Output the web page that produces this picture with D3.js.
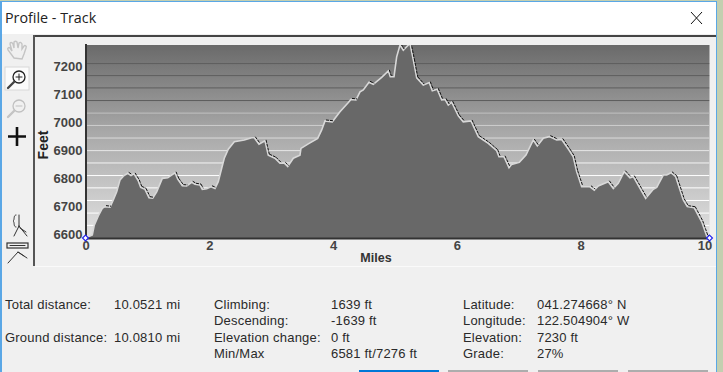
<!DOCTYPE html>
<html>
<head>
<meta charset="utf-8">
<style>
  html, body { margin: 0; padding: 0; background: #f0f0f0; overflow: hidden; }
  svg { display: block; font-family: "Liberation Sans", sans-serif; }
  .axis text { font: bold 13px "Liberation Sans", sans-serif; fill: #444; }
  .axis path { stroke: #333; stroke-width: 2; }
  .info { font-size: 13px; letter-spacing: .2px; fill: #2a2a2a; dominant-baseline: middle; }
</style>
</head>
<body>
<div id="chart"></div>
<script src="https://cdnjs.cloudflare.com/ajax/libs/d3/7.8.5/d3.min.js"></script>
<script>
// track profile
let miles = [0, .110, .142, .207, .271, .315, .396, .449, .504, .557, .611, .682, .735, .784, .853, .892, .961, 1.026, 1.086, 1.150,
  1.241, 1.328, 1.446, 1.490, 1.564, 1.635, 1.716, 1.769, 1.850, 1.887, 1.958, 2.027, 2.092, 2.145, 2.200, 2.242, 2.307, 2.404, 2.565, 2.685,
  2.727, 2.803, 2.900, 2.953, 3.061, 3.142, 3.212, 3.267, 3.357, 3.465, 3.481, 3.599, 3.751, 3.816, 3.869, 3.987, 4.111, 4.236, 4.289, 4.370,
  4.435, 4.488, 4.580, 4.649, 4.785, 4.892, 4.924, 4.984, 5.027, 5.081, 5.134, 5.189, 5.242, 5.296, 5.351, 5.457, 5.554, 5.603, 5.683, 5.754,
  5.808, 5.861, 5.916, 6.023, 6.103, 6.228, 6.346, 6.507, 6.643, 6.680, 6.761, 6.842, 6.885, 7.008, 7.116, 7.234, 7.299, 7.396, 7.493, 7.612,
  7.693, 7.811, 7.880, 7.935, 8.016, 8.150, 8.220, 8.284, 8.446, 8.527, 8.607, 8.704, 8.796, 8.850, 9.050, 9.173, 9.228, 9.334, 9.389, 9.459,
  9.535, 9.657, 9.722, 9.835, 9.955, 10.036, 10.081];
let feet = [6581, 6592, 6627, 6660, 6687, 6693, 6691, 6717, 6746, 6788, 6802, 6812, 6804, 6810, 6785, 6762, 6755, 6725, 6723, 6746,
  6794, 6796, 6814, 6791, 6768, 6767, 6780, 6773, 6770, 6755, 6757, 6764, 6758, 6782, 6830, 6866, 6898, 6925, 6931, 6939,
  6939, 6916, 6928, 6877, 6866, 6848, 6848, 6836, 6866, 6877, 6901, 6917, 6937, 6967, 6999, 6996, 7032, 7062, 7076, 7074,
  7103, 7110, 7137, 7130, 7155, 7178, 7157, 7157, 7228, 7270, 7252, 7264, 7276, 7217, 7153, 7127, 7136, 7107, 7112, 7074,
  7076, 7056, 7066, 7017, 6996, 6999, 6943, 6919, 6893, 6871, 6871, 6832, 6844, 6851, 6877, 6931, 6910, 6937, 6943, 6931,
  6933, 6895, 6871, 6818, 6764, 6764, 6752, 6767, 6782, 6758, 6776, 6818, 6796, 6800, 6723, 6755, 6762, 6806, 6806, 6814,
  6800, 6717, 6693, 6689, 6639, 6588, 6581];

let yTicks = [6600, 6700, 6800, 6900, 7000, 7100, 7200];
let xTicks = [0, 2, 4, 6, 8, 10];
let darkGrid = [7204, 7161, 7117, 7072];
let lightGrid = [7027, 6983, 6938, 6893, 6849, 6804, 6760, 6715, 6670, 6626];

let statsLeft = [["Total distance:", "10.0521 mi"], ["", ""], ["Ground distance:", "10.0810 mi"], ["", ""]];
let statsMid = [["Climbing:", "1639 ft"], ["Descending:", "-1639 ft"], ["Elevation change:", "0 ft"], ["Min/Max", "6581 ft/7276 ft"]];
let statsRight = [["Latitude:", "041.274668° N"], ["Longitude:", "122.504904° W"], ["Elevation:", "7230 ft"], ["Grade:", "27%"]];

let width = 723;
let height = 372;
let plot = { left: 85.5, right: 709.5, top: 45, bottom: 238 };

let track = miles.map(function(m, i) { return { mile: m, ft: feet[i] }; });

let svg = d3.select('#chart').append('svg')
  .attr('width', width)
  .attr('height', height);

// map peeking out behind the dialog, then the dialog itself
svg.append('rect').attr('width', width).attr('height', height).attr('fill', '#c3cfb0');
svg.append('rect').attr('x', 0).attr('y', 1).attr('width', 717).attr('height', height).attr('fill', '#5aa7e6');
svg.append('rect').attr('x', 2).attr('y', 2).attr('width', 714).attr('height', height).attr('fill', '#f0f0f0');
svg.append('rect').attr('x', 2).attr('y', 2).attr('width', 714).attr('height', 32).attr('fill', '#fff');

svg.append('text').attr('x', 5).attr('y', 23)
  .style('font', '14.3px "Open Sans", sans-serif').attr('fill', '#222').text('Profile - Track');

// close button
svg.append('path').attr('d', 'M691 12L702 24M702 12L691 24').attr('stroke', '#111').attr('fill', 'none');

// chart panel frame
svg.append('rect').attr('x', 33).attr('y', 35).attr('width', 683).attr('height', 2).attr('fill', '#444');
svg.append('rect').attr('x', 33).attr('y', 35).attr('width', 2).attr('height', 231).attr('fill', '#555');
svg.append('rect').attr('x', 35).attr('y', 266).attr('width', 681).attr('height', 1).attr('fill', '#fafafa');

let xScale = d3.scaleLinear().domain([0, 10.081]).range([plot.left, plot.right]);
let yScale = d3.scaleLinear().domain([6581, 7276]).range([plot.bottom, 43.4]);

let defs = svg.append('defs');
let grad = defs.append('linearGradient').attr('id', 'sky')
  .attr('x1', 0).attr('y1', 0).attr('x2', 0).attr('y2', 1);
grad.append('stop').attr('offset', '0%').attr('stop-color', '#6a6a6a');
grad.append('stop').attr('offset', '45%').attr('stop-color', '#a8a8a8');
grad.append('stop').attr('offset', '100%').attr('stop-color', '#e2e2e2');
defs.append('clipPath').attr('id', 'plotClip').append('rect')
  .attr('x', plot.left).attr('y', plot.top)
  .attr('width', plot.right - plot.left).attr('height', plot.bottom - plot.top);

svg.append('rect')
  .attr('x', plot.left).attr('y', plot.top)
  .attr('width', plot.right - plot.left).attr('height', plot.bottom - plot.top)
  .attr('fill', 'url(#sky)');

let chartGroup = svg.append('g').attr('clip-path', 'url(#plotClip)');

chartGroup.selectAll('line.dark').data(darkGrid).enter().append('line')
  .attr('class', 'dark')
  .attr('x1', plot.left).attr('x2', plot.right)
  .attr('y1', function(d) { return yScale(d); }).attr('y2', function(d) { return yScale(d); })
  .attr('stroke', '#5e5e5e').attr('stroke-width', 1);

chartGroup.selectAll('line.light').data(lightGrid).enter().append('line')
  .attr('class', 'light')
  .attr('x1', plot.left).attr('x2', plot.right)
  .attr('y1', function(d) { return yScale(d); }).attr('y2', function(d) { return yScale(d); })
  .attr('stroke', function(d, i) { return d3.interpolateRgb('#c2c2c2', '#ffffff')(Math.min(1, i / 5)); })
  .attr('stroke-width', 1);

let area = d3.area()
  .x(function(d) { return xScale(d.mile); })
  .y0(plot.bottom)
  .y1(function(d) { return yScale(d.ft); });

let line = d3.line()
  .x(function(d) { return xScale(d.mile); })
  .y(function(d) { return yScale(d.ft); });

chartGroup.append('path').datum(track)
  .attr('d', area)
  .attr('fill', '#686868');

// light edge on the whole outline, black on the downhill stretches
chartGroup.append('path').datum(track)
  .attr('d', line)
  .attr('fill', 'none')
  .attr('stroke', '#d8d8d8')
  .attr('stroke-width', 1.6);

let downhill = d3.pairs(track).filter(function(p) { return p[1].ft < p[0].ft; });
chartGroup.selectAll('path.down').data(downhill).enter().append('path')
  .attr('class', 'down')
  .attr('d', line)
  .attr('transform', 'translate(1,-1)')
  .attr('fill', 'none')
  .attr('stroke', '#111')
  .attr('stroke-width', 1)
  .attr('stroke-dasharray', '3 1');

// axes
let yAxis = d3.axisLeft(yScale).tickValues(yTicks).tickSize(0).tickPadding(3).tickFormat(d3.format('d'));
svg.append('g').attr('class', 'axis')
  .attr('transform', 'translate(' + plot.left + ',0)')
  .call(yAxis)
  .selectAll('text').attr('dy', '.44em');

let xAxis = d3.axisBottom(xScale).tickValues(xTicks).tickSize(0).tickPadding(3).tickFormat(d3.format('d'));
svg.append('g').attr('class', 'axis')
  .attr('transform', 'translate(0,' + plot.bottom + ')')
  .call(xAxis);

svg.append('text').attr('x', 376).attr('y', 262).attr('text-anchor', 'middle')
  .style('font', 'bold 12.5px "Liberation Sans", sans-serif').attr('fill', '#333').text('Miles');
svg.append('text').attr('transform', 'translate(48,145) rotate(-90)').attr('text-anchor', 'middle')
  .style('font', 'bold 14px "Liberation Sans", sans-serif').attr('fill', '#222').text('Feet');

// end markers
svg.selectAll('path.end').data([track[0], track[track.length - 1]]).enter().append('path')
  .attr('class', 'end')
  .attr('d', d3.symbol().type(d3.symbolDiamond2).size(22))
  .attr('transform', function(d) { return 'translate(' + xScale(d.mile) + ',' + yScale(d.ft) + ')'; })
  .attr('fill', '#fff')
  .attr('stroke', '#2222ee')
  .attr('stroke-width', 1.2);

// toolbar icons
let icons = svg.append('g').attr('fill', 'none').attr('stroke-linecap', 'round');
icons.append('path')
  .attr('d', 'M14 58L8 50C7 48 9 47 10 48L12 51L10 44C10 42 12 42 13 44L14 48L14 42C15 41 16 41 17 42L18 48L19 43C20 42 21 42 22 44L22 49L24 46C25 45 27 46 26 48L24 54L22 59Z')
  .attr('stroke', '#c4c4c4').attr('stroke-width', 1.4);
icons.append('rect').attr('x', 5).attr('y', 67).attr('width', 24).attr('height', 23).attr('stroke', '#d8d8d8').attr('fill', '#fbfbfb');
icons.append('circle').attr('cx', 19).attr('cy', 77).attr('r', 6).attr('stroke', '#222').attr('stroke-width', 1.3);
icons.append('path').attr('d', 'M16 77H22M19 74V80').attr('stroke', '#222');
icons.append('path').attr('d', 'M14 82L8 88').attr('stroke', '#444').attr('stroke-width', 2.4);
icons.append('circle').attr('cx', 19).attr('cy', 106).attr('r', 6).attr('stroke', '#c0c0c0').attr('stroke-width', 1.3);
icons.append('path').attr('d', 'M16 106H22').attr('stroke', '#c0c0c0');
icons.append('path').attr('d', 'M14 111L8 117').attr('stroke', '#c4c4c4').attr('stroke-width', 2.4);
icons.append('path').attr('d', 'M17 127V146M8 136.5H26').attr('stroke', '#111').attr('stroke-width', 2.6).attr('stroke-linecap', 'butt');
icons.append('path').attr('d', 'M16 215C13 215 15 220 13 221C15 222 13 227 16 227M19 215V227M19 226L14 236M19 226L27 236M20 228L26 232')
  .attr('stroke', '#333');
icons.append('rect').attr('x', 7).attr('y', 243).attr('width', 21).attr('height', 5).attr('stroke', '#333').attr('stroke-width', 1.2);
icons.append('path').attr('d', 'M10 245.5H25M8 263L18 252L27 258M18 252L24 256').attr('stroke', '#333');

// readouts under the chart
let rowY = [305.5, 322, 339, 355];

function statColumn(rows, labelX, valueX) {
  let g = svg.append('g').attr('class', 'stats');
  rows.forEach(function(r, i) {
    g.append('text').attr('class', 'info').attr('x', labelX).attr('y', rowY[i]).text(r[0]);
    g.append('text').attr('class', 'info').attr('x', valueX).attr('y', rowY[i]).text(r[1]);
  });
}

statColumn(statsLeft, 5, 114);
statColumn(statsMid, 214, 331);
statColumn(statsRight, 463, 537);

// tops of the dialog buttons, cut off by the window
svg.append('rect').attr('x', 359).attr('y', 370).attr('width', 80).attr('height', 2).attr('fill', '#0078d7');
svg.selectAll('rect.btn').data([448, 538, 628]).enter().append('rect')
  .attr('class', 'btn').attr('x', function(d) { return d; }).attr('y', 370)
  .attr('width', 80).attr('height', 2).attr('fill', '#adadad');
</script>
</body>
</html>
